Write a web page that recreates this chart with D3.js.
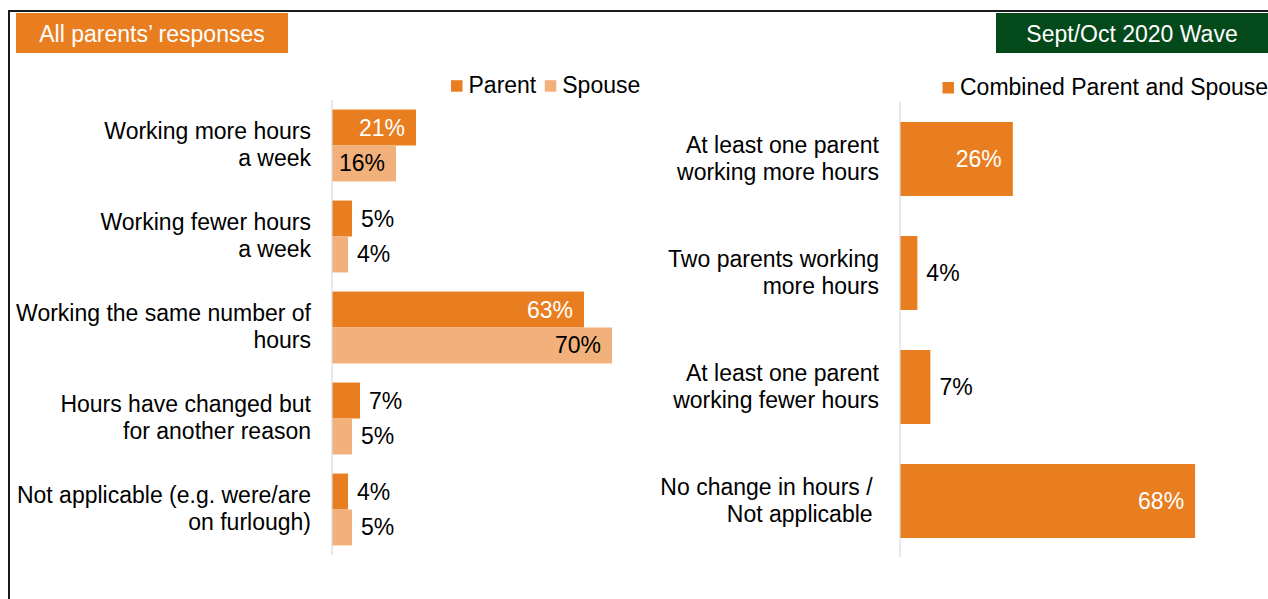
<!DOCTYPE html>
<html>
<head>
<meta charset="utf-8">
<script src="https://cdn.jsdelivr.net/npm/d3@7"></script>
<style>
  body { margin: 0; background: #fff; }
  svg { display: block; font-family: "Liberation Sans", Arial, sans-serif; }
</style>
</head>
<body>
<div id="chart"></div>
<script>
// Left panel: parent vs spouse
const leftCategories = [
    ['Working more hours', 'a week'],
    ['Working fewer hours', 'a week'],
    ['Working the same number of', 'hours'],
    ['Hours have changed but', 'for another reason'],
    ['Not applicable (e.g. were/are', 'on furlough)']
];
const leftSeries = ['Parent', 'Spouse'];
const parentValues = [21, 5, 63, 7, 4];
const spouseValues = [16, 4, 70, 5, 5];

// Right panel: combined
const rightCategories = [
    ['At least one parent', 'working more hours'],
    ['Two parents working', 'more hours'],
    ['At least one parent', 'working fewer hours'],
    ['No change in hours /\u00a0', 'Not applicable\u00a0']
];
const combinedValues = [26, 4, 7, 68];
const rightSeries = ['Combined Parent and Spouse'];

const titleText = 'All parents\u2019 responses';
const waveText = 'Sept/Oct 2020 Wave';

const ORANGE = '#E87E1F';
const LIGHT = '#F2B07A';
const GREEN = '#03491A';
const FONT = 23;

const width = 1268, height = 599;
const svg = d3.select('#chart').append('svg')
    .attr('width', width)
    .attr('height', height);

svg.append('rect').attr('width', width).attr('height', height).attr('fill', '#fff');

// frame
svg.append('path')
    .attr('d', `M9,${height + 2} V11 H${width + 2}`)
    .attr('fill', 'none')
    .attr('stroke', '#1a1a1a')
    .attr('stroke-width', 2);

// header boxes
function headerBox(x, w, fill, text) {
    svg.append('rect').attr('x', x).attr('y', 13).attr('width', w).attr('height', 40).attr('fill', fill);
    svg.append('text')
        .attr('x', x + w / 2).attr('y', 41.5)
        .attr('text-anchor', 'middle')
        .attr('fill', '#fff')
        .style('font-size', FONT + 'px')
        .text(text);
}
headerBox(16, 272, ORANGE, titleText);
headerBox(996, 272, GREEN, waveText);

// legend helper
function legend(x, yText, items) {
    let cx = x;
    items.forEach(item => {
        svg.append('rect')
            .attr('x', cx).attr('y', yText - 12.5)
            .attr('width', 11.5).attr('height', 11.5)
            .attr('fill', item.color);
        const t = svg.append('text')
            .attr('x', cx + 17.5).attr('y', yText)
            .style('font-size', FONT + 'px')
            .attr('fill', '#000')
            .text(item.label);
        cx += 17.5 + t.node().getComputedTextLength() + 8.5;
    });
}

function labelLines(sel, x, lineH, offset) {
    sel.each(function (d) {
        const t = d3.select(this);
        d.lines.forEach((line, i) => {
            t.append('tspan')
                .attr('x', x)
                .attr('dy', i === 0 ? (-(d.lines.length - 1) / 2 * lineH + offset) : lineH)
                .text(line);
        });
    });
}

function valueLabels(g, data, x, yCenter, bandH) {
    g.selectAll('.val')
        .data(data)
        .enter()
        .append('text')
        .attr('class', 'val')
        .attr('x', d => d.value >= 10 ? x(d.value) - 11 : x(d.value) + 9)
        .attr('y', d => yCenter(d) + bandH / 2 + 8)
        .attr('text-anchor', d => d.value >= 10 ? 'end' : 'start')
        .attr('fill', d => d.value >= 10 && d.inverse ? '#fff' : '#000')
        .style('font-size', FONT + 'px')
        .text(d => d.value + '%');
}

// ---------- left chart ----------
const xL = d3.scaleLinear().domain([0, 100]).range([332, 732]);
const yL = d3.scaleBand().domain(d3.range(leftCategories.length)).range([100, 555])
    .paddingInner(0.21).paddingOuter(0.105);
const ySub = d3.scaleBand().domain(leftSeries).range([0, yL.bandwidth()]);

const leftData = [];
leftCategories.forEach((c, i) => {
    leftData.push({ cat: i, series: 'Parent', value: parentValues[i], color: ORANGE, inverse: true });
    leftData.push({ cat: i, series: 'Spouse', value: spouseValues[i], color: LIGHT, inverse: false });
});

const gL = svg.append('g');
gL.selectAll('.bar')
    .data(leftData)
    .enter()
    .append('rect')
    .attr('class', 'bar')
    .attr('x', xL(0))
    .attr('y', d => yL(d.cat) + ySub(d.series))
    .attr('width', d => xL(d.value) - xL(0))
    .attr('height', ySub.bandwidth())
    .attr('fill', d => d.color);

valueLabels(gL, leftData, xL, d => yL(d.cat) + ySub(d.series), ySub.bandwidth());

gL.append('line')
    .attr('x1', xL(0)).attr('x2', xL(0))
    .attr('y1', 100).attr('y2', 555)
    .attr('stroke', '#d9d9d9').attr('stroke-width', 1.2);

gL.selectAll('.cat')
    .data(leftCategories.map((lines, i) => ({ lines, i })))
    .enter()
    .append('text')
    .attr('class', 'cat')
    .attr('y', d => yL(d.i) + yL.bandwidth() / 2)
    .attr('text-anchor', 'end')
    .attr('fill', '#000')
    .style('font-size', FONT + 'px')
    .call(labelLines, xL(0) - 21, 27, 7);

legend(451, 92.7, [
    { label: leftSeries[0], color: ORANGE },
    { label: leftSeries[1], color: LIGHT }
]);

// ---------- right chart ----------
const xR = d3.scaleLinear().domain([0, 100]).range([900, 1334]);
const yR = d3.scaleBand().domain(d3.range(rightCategories.length)).range([102, 558])
    .paddingInner(0.351).paddingOuter(0.175);

const rightData = combinedValues.map((v, i) => ({ cat: i, value: v, inverse: true }));

const gR = svg.append('g');
gR.selectAll('.bar')
    .data(rightData)
    .enter()
    .append('rect')
    .attr('class', 'bar')
    .attr('x', xR(0))
    .attr('y', d => yR(d.cat))
    .attr('width', d => xR(d.value) - xR(0))
    .attr('height', yR.bandwidth())
    .attr('fill', ORANGE);

valueLabels(gR, rightData, xR, d => yR(d.cat), yR.bandwidth());

gR.append('line')
    .attr('x1', xR(0)).attr('x2', xR(0))
    .attr('y1', 102).attr('y2', 557)
    .attr('stroke', '#d9d9d9').attr('stroke-width', 1.2);

gR.selectAll('.cat')
    .data(rightCategories.map((lines, i) => ({ lines, i })))
    .enter()
    .append('text')
    .attr('class', 'cat')
    .attr('y', d => yR(d.i) + yR.bandwidth() / 2)
    .attr('text-anchor', 'end')
    .attr('fill', '#000')
    .style('font-size', FONT + 'px')
    .style('white-space', 'pre')
    .call(labelLines, xR(0) - 21, 27, 7.5);

legend(942.5, 94.5, [
    { label: rightSeries[0], color: ORANGE }
]);
</script>
</body>
</html>
